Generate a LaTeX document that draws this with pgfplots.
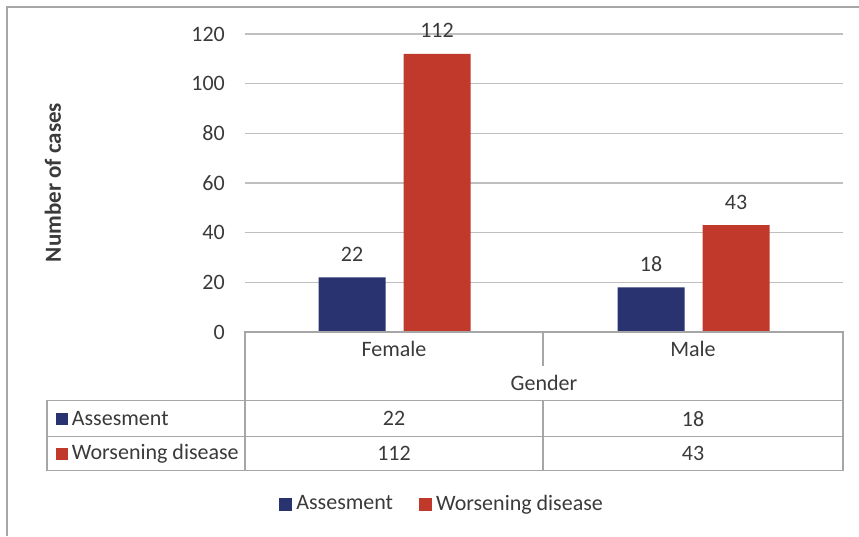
\documentclass[border=0pt]{standalone}
\usepackage{fontspec}
\setmainfont{Carlito}
\usepackage{pgfplots}
\usepackage{pgfplotstable}
\pgfplotsset{compat=1.18}

\definecolor{assessblue}{HTML}{283370}
\definecolor{worsered}{HTML}{C0392A}
\definecolor{gridgray}{HTML}{BFBFBF}
\definecolor{tablegray}{HTML}{A6A6A6}
\definecolor{txt}{HTML}{3A3A3A}

\newcommand{\chartfont}{\fontsize{22}{26}\selectfont}

\pgfplotstableread{
x assess worse
0 22 112
1 18 43
}\gendertable

\begin{document}
\chartfont
\begin{tikzpicture}[x=1pt,y=1pt]
\useasboundingbox (-245,-204) rectangle (614,332);
\begin{axis}[
  at={(0,0)}, anchor=south west,
  scale only axis, width=598pt, height=298pt,
  xmin=-0.5, xmax=1.5, ymin=0, ymax=120,
  ytick={0,20,...,120}, xtick=\empty,
  axis line style={draw=none},
  major tick length=0pt,
  ymajorgrids,
  major grid style={gridgray, line width=1.4pt},
  /pgf/number format/assume math mode=true,
  yticklabel style={inner sep=0pt, xshift=-20pt, text=txt, font=\chartfont},
  legend style={draw=none, fill=none, at={(axis description cs:0.328,-0.579)}, anchor=center,
    font=\chartfont, text=txt, nodes={inner sep=0pt},
    /tikz/every odd column/.append style={column sep=4pt},
    /tikz/every even column/.append style={column sep=26pt}},
  legend columns=2,
  legend image code/.code={\fill[#1] (0pt,-6.5pt) rectangle (13pt,6.5pt);},
  every node near coord/.append style={anchor=base, inner sep=0pt, yshift=16pt, text=txt,
    font=\chartfont},
  clip=false,
]
\addplot[ybar, bar width=67pt, bar shift=-42.5pt, fill=assessblue, draw=none,
  nodes near coords, every node near coord/.append style={xshift=-42.5pt}]
  table[x=x, y=assess] {\gendertable};
\addlegendentry{Assesment}
\addplot[ybar, bar width=67pt, bar shift=42.5pt, fill=worsered, draw=none,
  nodes near coords, every node near coord/.append style={xshift=42.5pt}]
  table[x=x, y=worse] {\gendertable};
\addlegendentry{Worsening disease}
\end{axis}

% outer frame (top and left edges)
\draw[tablegray, line width=1.4pt] (-238,-204) -- (-238,325) -- (614,325);

% y axis title
\node[rotate=90, text=txt, font=\fontsize{23}{27}\selectfont\bfseries] at (-192,149.5) {Number of cases};

% data table grid
\begin{scope}[tablegray, line width=1.4pt]
  \draw (0,0) -- (0,-138.7) -- (598,-138.7) -- (598,0) -- cycle;
  \draw (298,0) -- (298,-33.7);
  \draw (298,-68.7) -- (298,-138.7);
  \draw (-198,-68.7) rectangle (598,-104.7);
  \draw (-198,-104.7) rectangle (0,-138.7);
\end{scope}

% table header
\node[text=txt] at (149,-17) {Female};
\node[text=txt] at (448,-17) {Male};
\node[text=txt] at (299,-51) {Gender};

% series rows
\fill[assessblue] (-189.3,-92.7) rectangle (-177.3,-80.7);
\node[text=txt, anchor=west, inner sep=0pt] at (-173.3,-86.7) {Assesment};
\fill[worsered] (-189.3,-127.7) rectangle (-177.3,-115.7);
\node[text=txt, anchor=west, inner sep=0pt] at (-173.3,-121.7) {Worsening disease};

\pgfplotstablegetelem{0}{assess}\of\gendertable \node[text=txt] at (149,-86.7) {\pgfplotsretval};
\pgfplotstablegetelem{1}{assess}\of\gendertable \node[text=txt] at (448,-86.7) {\pgfplotsretval};
\pgfplotstablegetelem{0}{worse}\of\gendertable \node[text=txt] at (149,-121.7) {\pgfplotsretval};
\pgfplotstablegetelem{1}{worse}\of\gendertable \node[text=txt] at (448,-121.7) {\pgfplotsretval};
\end{tikzpicture}
\end{document}
